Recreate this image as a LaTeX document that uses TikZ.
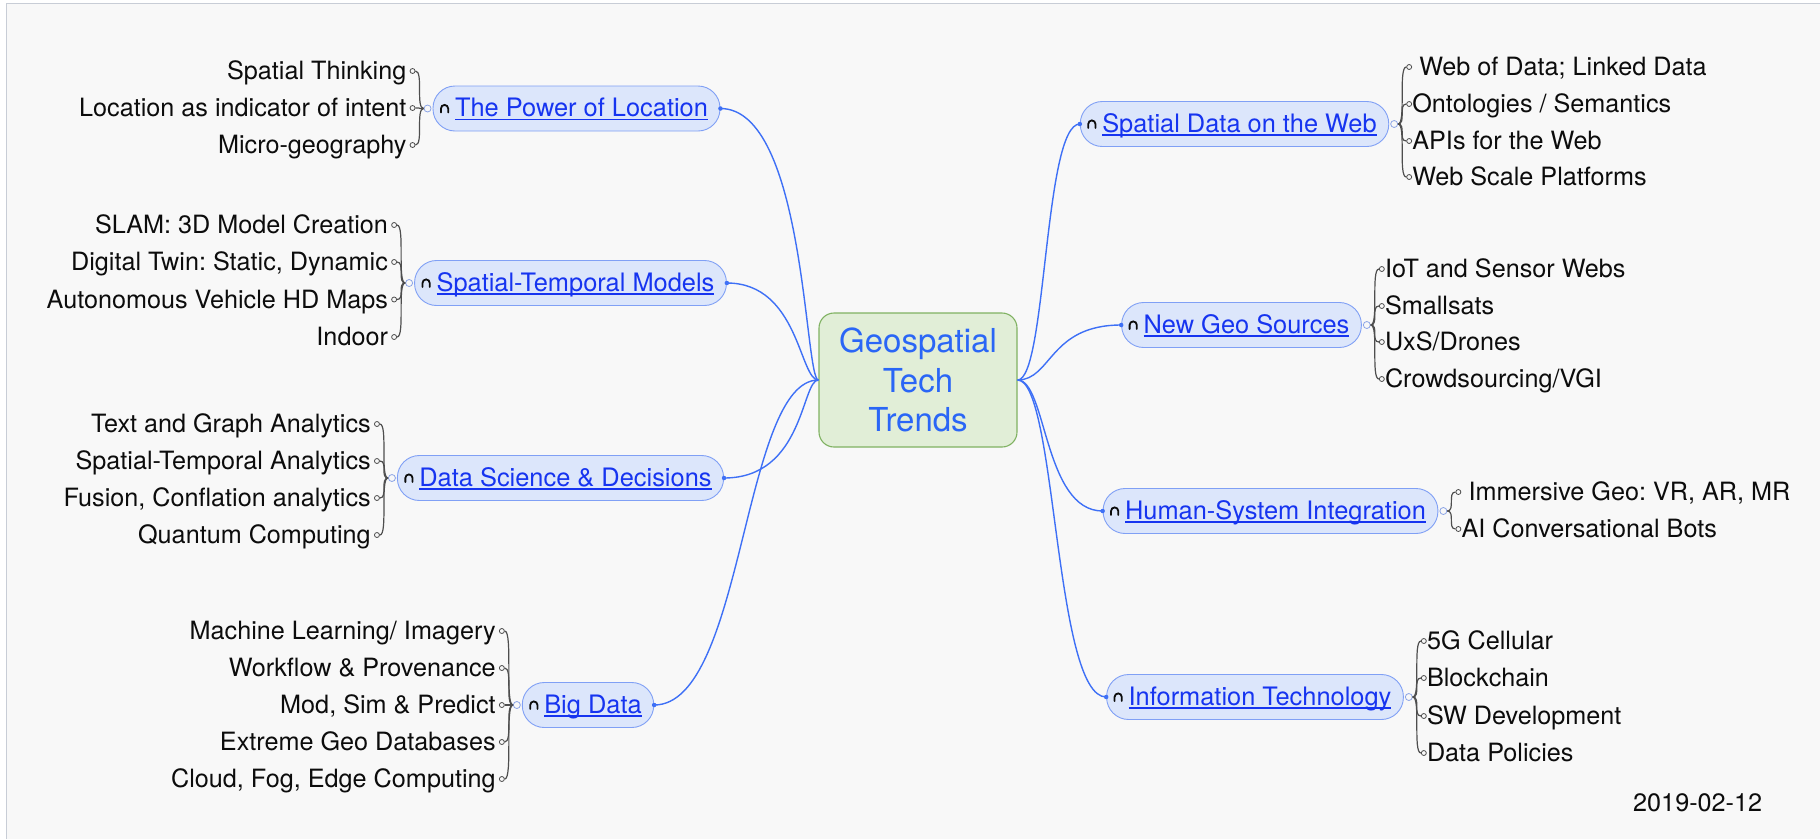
\documentclass[tikz,border=0pt]{standalone}
\usepackage{fontspec}
\setmainfont{TeX Gyre Heros}
\usetikzlibrary{calc}
\frenchspacing

\definecolor{pagebg}{RGB}{248,248,248}
\definecolor{framegray}{RGB}{200,205,214}
\definecolor{topicfill}{RGB}{220,230,251}
\definecolor{topicline}{RGB}{128,160,245}
\definecolor{linkblue}{RGB}{22,52,240}
\definecolor{curveblue}{RGB}{62,112,246}
\definecolor{hubline}{RGB}{140,165,230}
\definecolor{bracegray}{RGB}{78,78,78}
\definecolor{leafblack}{RGB}{12,12,12}
\definecolor{rootfill}{RGB}{225,238,215}
\definecolor{rootline}{RGB}{128,178,98}
\definecolor{roottext}{RGB}{42,102,246}

% underlined link text with a fixed-offset rule
\newcommand\linktext[1]{\setbox0=\hbox{#1}\rlap{\rule[-3.8pt]{\wd0}{1.4pt}}\box0}
\newcommand\topictext[1]{\hspace*{14pt}\linktext{#1}\hspace*{4pt}}

\tikzset{
  root/.style={draw=rootline, fill=rootfill, line width=1.1pt, rounded corners=15pt,
    minimum width=198pt, minimum height=134pt, align=center, text=roottext,
    font=\fontsize{33}{39.5}\selectfont},
  topic/.style={draw=topicline, fill=topicfill, line width=0.9pt, rounded corners=22pt,
    minimum height=45pt, inner xsep=8pt, inner ysep=0pt, text=linkblue,
    text height=19pt, text depth=3pt, font=\fontsize{25.4}{30}\selectfont},
  hub/.style={circle, draw=hubline, fill=pagebg, line width=0.8pt, minimum size=7pt, inner sep=0pt},
  leafdot/.style={circle, draw=bracegray, fill=pagebg, line width=0.8pt, minimum size=5pt, inner sep=0pt},
  enddot/.style={circle, fill=curveblue, minimum size=4.5pt, inner sep=0pt},
  leafL/.style={anchor=base east, inner sep=0pt, text=leafblack, font=\fontsize{25.2}{30}\selectfont},
  leafR/.style={anchor=base west, inner sep=0pt, text=leafblack, font=\fontsize{25.2}{30}\selectfont},
  bracepen/.style={draw=bracegray, line width=1.2pt},
  branchpen/.style={draw=curveblue, line width=1.4pt},
  linkicon/.pic={
    \draw[leafblack, line width=1.8pt, line cap=round]
      (-3.6,4) -- (-3.6,0) arc[start angle=180, end angle=360, radius=3.6] -- (3.6,4);
  }
}

% leaves on the left of a topic: list of y/label/id
\newcommand\leavesL[2]{%
  \coordinate (#1x) at ([xshift=-15pt]h#1.center);
  \foreach \yy/\lab/\k in {#2} {
    \node[leafdot] (d#1\k) at (#1x |- 0,\yy) {};
    \node[leafL] (t#1\k) at ([xshift=-6pt,yshift=-8.5pt]d#1\k.center) {\lab};
    \draw[bracepen] (h#1.west) .. controls (h#1.west -| d#1\k.east) and (d#1\k.east -| h#1.west) .. (d#1\k.east);
  }
}
% leaves on the right of a topic
\newcommand\leavesR[2]{%
  \coordinate (#1x) at ([xshift=15pt]h#1.center);
  \foreach \yy/\lab/\k in {#2} {
    \node[leafdot] (d#1\k) at (#1x |- 0,\yy) {};
    \node[leafR] (t#1\k) at ([xshift=3pt,yshift=-8.5pt]d#1\k.center) {\lab};
    \draw[bracepen] (h#1.east) .. controls (h#1.east -| d#1\k.west) and (d#1\k.west -| h#1.east) .. (d#1\k.west);
  }
}

\begin{document}
\begin{tikzpicture}[x=1pt,y=-1pt]
\useasboundingbox (0,0) rectangle (1820,839);
\fill[white] (0,0) rectangle (1820,839);
\fill[pagebg] (6.5,3.5) rectangle (1820,839);
\draw[framegray, line width=1.2pt] (6.5,839) -- (6.5,3.5) -- (1820,3.5);

% central topic
\node[root] (root) at (918,380) {Geospatial\\Tech\\Trends};

% main topics, left side
\node[topic] (L1) at (576.5,108.5) {\topictext{The Power of Location}};
\node[topic] (L2) at (570.5,283) {\topictext{Spatial-Temporal Models}};
\node[topic] (L3) at (560.5,478) {\topictext{Data Science \& Decisions}};
\node[topic] (L4) at (588,705) {\topictext{Big Data}};

% main topics, right side
\node[topic] (R1) at (1234.5,124) {\topictext{Spatial Data on the Web}};
\node[topic] (R2) at (1241.5,325) {\topictext{New Geo Sources}};
\node[topic] (R3) at (1270.5,511) {\topictext{Human-System Integration}};
\node[topic] (R4) at (1255,697) {\topictext{Information Technology}};

% link icons
\foreach \t in {L1,L2,L3,L4,R1,R2,R3,R4} {
  \pic at ([xshift=12pt]\t.west) {linkicon};
}

% hubs where the sub-topic braces start
\foreach \t in {L1,L2,L3,L4} { \node[hub] (h\t) at ([xshift=-5pt]\t.west) {}; }
\foreach \t in {R1,R2,R3,R4} { \node[hub] (h\t) at ([xshift=5pt]\t.east) {}; }

% sub-topics
\leavesL{L1}{71/{Spatial Thinking}/a, 108/{Location as indicator of intent}/b, 145/{Micro-geography}/c}
\leavesL{L2}{225/{SLAM: 3D Model Creation}/a, 262/{Digital Twin: Static, Dynamic}/b, 299.5/{Autonomous Vehicle HD Maps}/c, 337/{Indoor}/d}
\leavesL{L3}{424/{Text and Graph Analytics}/a, 461/{Spatial-Temporal Analytics}/b, 498/{Fusion, Conflation analytics}/c, 535/{Quantum Computing}/d}
\leavesL{L4}{631/{Machine Learning/ Imagery}/a, 668/{Workflow \& Provenance}/b, 705/{Mod, Sim \& Predict}/c, 742/{Extreme Geo Databases}/d, 779/{Cloud, Fog, Edge Computing}/e}

\leavesR{R1}{67/{\ Web of Data; Linked Data}/a, 104/{Ontologies / Semantics}/b, 141/{APIs for the Web}/c, 177/{Web Scale Platforms}/d}
\leavesR{R2}{269/{IoT and Sensor Webs}/a, 306/{Smallsats}/b, 342/{UxS/Drones}/c, 379/{Crowdsourcing/VGI}/d}
\leavesR{R3}{492/{\ Immersive Geo: VR, AR, MR}/a, 529/{AI Conversational Bots}/b}
\leavesR{R4}{641/{5G Cellular}/a, 678/{Blockchain}/b, 716/{SW Development}/c, 753/{Data Policies}/d}

% branches from the central topic
\draw[branchpen] (root.west) .. controls +(-14,0) and +(85,0) .. (L1.east);
\draw[branchpen] (root.west) .. controls +(-19,0) and +(72,0) .. (L2.east);
\draw[branchpen] (root.west) .. controls +(-17,0) and +(80,0) .. (L3.east);
\draw[branchpen] (root.west) .. controls +(-76,0) and +(90,0) .. (L4.east);
\draw[branchpen] (root.east) .. controls +(29,0) and +(-36,0) .. (R1.west);
\draw[branchpen] (root.east) .. controls +(34,0) and +(-72,0) .. (R2.west);
\draw[branchpen] (root.east) .. controls +(29,0) and +(-59,0) .. (R3.west);
\draw[branchpen] (root.east) .. controls +(39,0) and +(-52,0) .. (R4.west);
\foreach \t in {L1,L2,L3,L4} { \node[enddot] (e\t) at (\t.east) {}; }
\foreach \t in {R1,R2,R3,R4} { \node[enddot] (e\t) at (\t.west) {}; }

% date stamp
\node[leafR] (date) at (1633,811) {2019-02-12};
\end{tikzpicture}
\end{document}
